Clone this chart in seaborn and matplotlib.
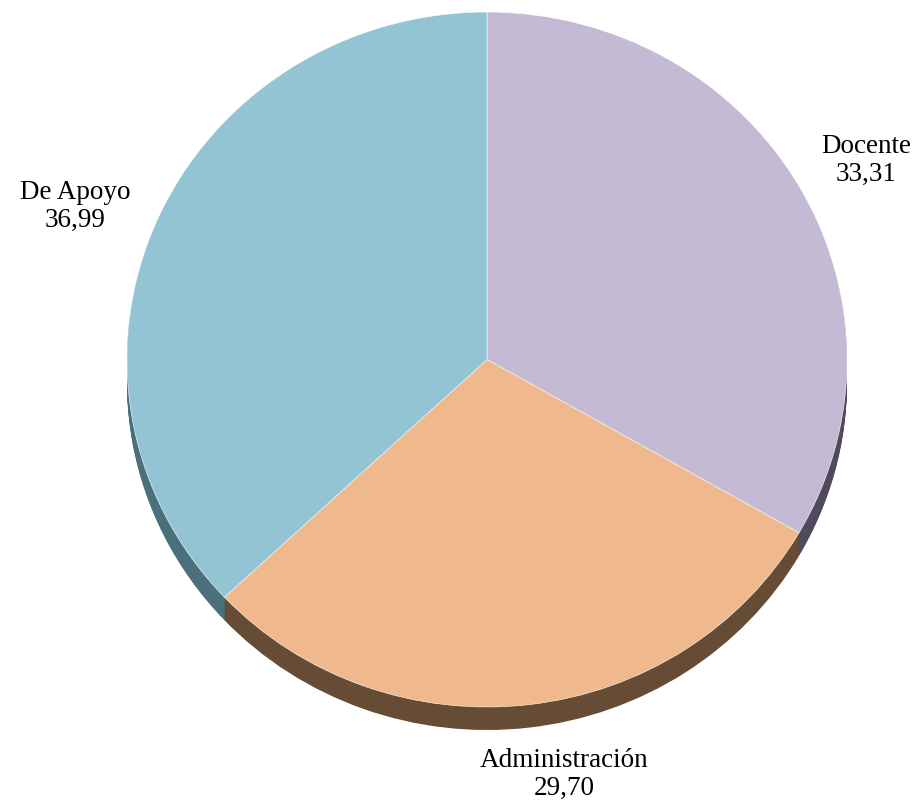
import matplotlib
matplotlib.use("Agg")
import matplotlib.pyplot as plt
import seaborn as sns

# data
categorias = ["Docente", "Administración", "De Apoyo"]
valores = [33.31, 29.70, 36.99]
colores_top = ["#C4BAD3", "#F0B98D", "#92C4D4"]
colores_lado = ["#4F4A5D", "#664B35", "#4A707C"]

sns.set_theme(style="white")
plt.rcParams["font.family"] = ["Liberation Serif", "DejaVu Serif"]

W, H = 919, 808
fig = plt.figure(figsize=(W / 100, H / 100), dpi=100)
ax = fig.add_axes([0, 0, 1, 1])

# pixel geometry of the tilted pie
rx, ry = 360, 347.5
cx, cy = 487, 359.5
depth = 23
sy = ry / rx  # vertical squash

ax.set_xlim(0, W)
ax.set_ylim(0, H / sy)

def to_data(px, py):
    return px, (H - py) / sy

# side wall: stacked darker copies
for d in range(depth, 0, -1):
    ax.pie(valores, colors=sns.color_palette(colores_lado), startangle=90,
           counterclock=False, radius=rx, center=to_data(cx, cy + d),
           wedgeprops=dict(linewidth=0), frame=True)

# top surface
ax.pie(valores, colors=sns.color_palette(colores_top), startangle=90,
       counterclock=False, radius=rx, center=to_data(cx, cy),
       wedgeprops=dict(edgecolor="white", linewidth=0.4), frame=True)

ax.set_aspect("auto")
ax.set_xlim(0, W)
ax.set_ylim(0, H / sy)
ax.axis("off")

etiquetas_pos = [(866, 160), (564, 774), (75, 206)]
for cat, val, (px, py) in zip(categorias, valores, etiquetas_pos):
    txt = f"{cat}\n{val:.2f}".replace(".", ",")
    ax.text(*to_data(px, py), txt, ha="center", va="center",
            fontsize=19.5, color="black", linespacing=1.15)

fig.savefig("out.png", dpi=100)
